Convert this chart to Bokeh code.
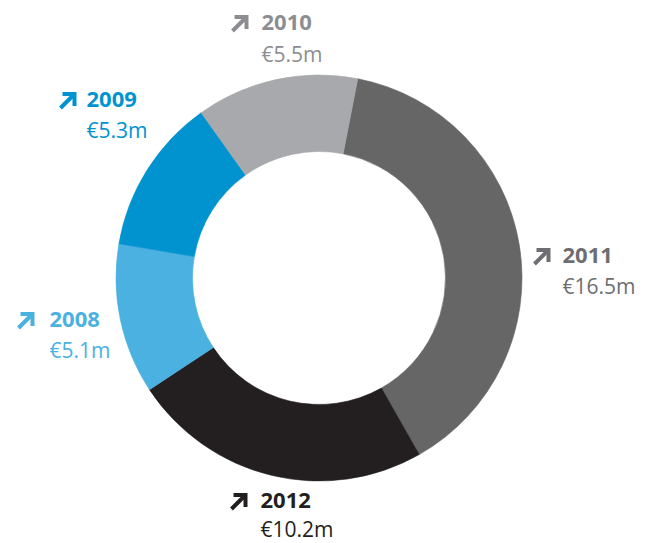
import numpy as np
from bokeh.plotting import figure
from bokeh.models import Range1d, ColumnDataSource
from bokeh.core.properties import value
from bokeh.embed import file_html
from bokeh.resources import INLINE

# ---- data (clockwise order, starting near the top) ----
years = ["2011", "2012", "2008", "2009", "2010"]
amounts = [16.5, 10.2, 5.1, 5.3, 5.5]
amount_labels = ["€16.5m", "€10.2m", "€5.1m", "€5.3m", "€5.5m"]

# ---- styles ----
slice_colors = ["#666666", "#231f20", "#4ab1e0", "#0093d0", "#a7a9ac"]
text_colors = ["#6d6e71", "#231f20", "#4ab1e0", "#0093d0", "#8c8d90"]

W, H = 655, 543

def py(y):  # page y -> data y
    return H - y

TEXT_SHIFT = 8  # renderer places alphabetic baseline a bit low

# donut geometry (page pixels)
cx, cy = 318.5, py(277.5)
r_out, r_in = 203, 126.5
start_offset_deg = 11.0

frac = np.array(amounts) / sum(amounts)
cum = np.concatenate([[0.0], np.cumsum(frac)]) * 360.0
a0 = start_offset_deg + cum[:-1]
a1 = start_offset_deg + cum[1:]
start_angles = np.radians(90.0 - a0)
end_angles = np.radians(90.0 - a1)

src = ColumnDataSource(dict(start=start_angles, end=end_angles, color=slice_colors))

p = figure(width=W, height=H, output_backend="svg", toolbar_location=None,
           x_range=Range1d(0, W), y_range=Range1d(0, H),
           min_border=0)
p.axis.visible = False
p.xgrid.visible = False
p.ygrid.visible = False
p.outline_line_color = None
p.background_fill_color = "white"
p.border_fill_color = "white"

p.annular_wedge(x=cx, y=cy, inner_radius=r_in, outer_radius=r_out,
                start_angle="start", end_angle="end", direction="clock",
                fill_color="color", line_color="color", line_width=0.6, source=src)

# ---- label layout (page pixels): arrow x, text x, year baseline, value baseline ----
arrow_x = [533, 230, 17, 59, 231]
text_x = [562, 260, 49, 86, 261]
year_base = [263, 508, 327, 107, 30]
val_base = [293, 536, 357, 137, 61]

# arrow icon shape (pixel offsets from its left / baseline)
head_xy = [(3, 13.5), (15, 13.5), (15, 1.5)]
shaft_xy = [(15, 13.5), (1, -0.5)]
axs, ays, acol = [], [], []
for ax, yb, c in zip(arrow_x, year_base, text_colors):
    for shape in (head_xy, shaft_xy):
        axs.append([ax + dx for dx, dy in shape])
        ays.append([py(yb) + dy for dx, dy in shape])
        acol.append(c)
p.multi_line(xs=axs, ys=ays, line_color=acol, line_width=4,
             line_join="miter", line_cap="butt")

lab = ColumnDataSource(dict(
    tx=text_x,
    yb=[py(v) + TEXT_SHIFT for v in year_base],
    vb=[py(v) + TEXT_SHIFT for v in val_base],
    year=years, amt=amount_labels, tc=text_colors,
))

p.text(x="tx", y="yb", text="year", source=lab, text_color="tc",
       text_font=value("Open Sans"), text_font_style="bold",
       text_font_size="22px", text_align="left", text_baseline="alphabetic")
p.text(x="tx", y="vb", text="amt", source=lab, text_color="tc",
       text_font=value("Open Sans"), text_font_style="normal",
       text_font_size="21px", text_align="left", text_baseline="alphabetic")

open("out.html", "w").write(file_html(p, INLINE))
